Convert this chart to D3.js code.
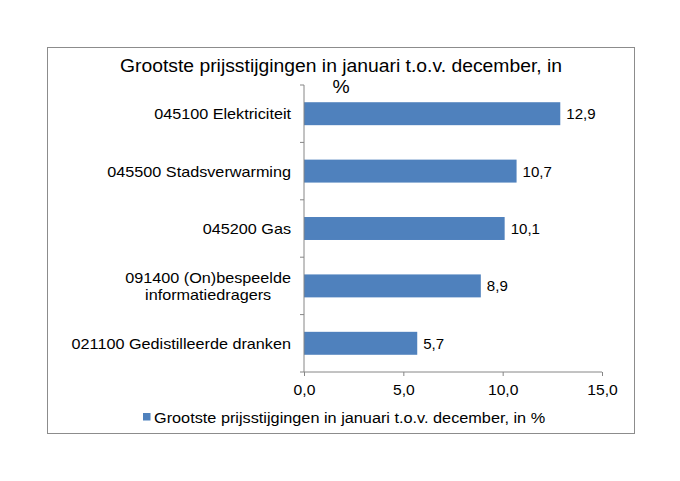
<!DOCTYPE html>
<html>
<head>
<meta charset="utf-8">
<script src="https://cdn.jsdelivr.net/npm/d3@7"></script>
<style>
body{margin:0;background:#fff;}
svg{display:block;font-family:"Liberation Sans",Arial,sans-serif;}
</style>
</head>
<body>
<svg id="c" width="680" height="481"></svg>
<script>
const categories = [
  ["045100 Elektriciteit"],
  ["045500 Stadsverwarming"],
  ["045200 Gas"],
  ["091400 (On)bespeelde", "informatiedragers"],
  ["021100 Gedistilleerde dranken"]
];
const values = [12.9, 10.7, 10.1, 8.9, 5.7];
const xTicks = [0, 5, 10, 15];
const titleLines = ["Grootste prijsstijgingen in januari t.o.v. december, in", "%"];
const seriesName = "Grootste prijsstijgingen in januari t.o.v. december, in %";

const svg = d3.select("#c");
const fmt = v => d3.format(".1f")(v).replace(".", ",");
const axisColor = "#868686";
const barColor = "#4F81BD";
const SX = 1.08;

// outer border
svg.append("rect").attr("x", 47.5).attr("y", 47.5).attr("width", 587).attr("height", 386)
  .attr("fill", "#fff").attr("stroke", "#8c8c8c").attr("stroke-width", 1);

const plot = {left: 304, right: 602, top: 85, bottom: 372};
const x = d3.scaleLinear().domain([0, 15]).range([plot.left, plot.right]);
const y = d3.scaleBand().domain(d3.range(categories.length)).range([plot.top, plot.bottom]).paddingInner(0.6).paddingOuter(0.3);

// title
svg.append("g").selectAll("text").data(titleLines).join("text")
  .attr("transform", (d, i) => `translate(341,${72 + i * 21}) scale(1.045,1)`)
  .attr("text-anchor", "middle").attr("font-size", 18.5).attr("fill", "#000")
  .text(d => d);

// bars
svg.append("g").selectAll("rect").data(values).join("rect")
  .attr("x", x(0)).attr("y", (d, i) => y(i))
  .attr("width", d => x(d) - x(0)).attr("height", y.bandwidth())
  .attr("fill", barColor);

// value labels
svg.append("g").selectAll("text").data(values).join("text")
  .attr("transform", (d, i) => `translate(${x(d) + 6},${y(i) + y.bandwidth() / 2 + 5.5}) scale(1.04,1)`)
  .attr("font-size", 14.5).attr("fill", "#000")
  .text(d => fmt(d));

// x axis
const xAxis = svg.append("g").attr("transform", `translate(0,${plot.bottom})`)
  .call(d3.axisBottom(x).tickValues(xTicks).tickSize(4).tickFormat(fmt));
xAxis.select(".domain").attr("stroke", axisColor).attr("d", `M${plot.left},0H${plot.right}`);
xAxis.selectAll(".tick line").attr("stroke", axisColor);
xAxis.selectAll(".tick text").attr("font-size", 14.5).attr("fill", "#000").attr("dy", null).attr("y", 0)
  .attr("transform", "translate(0,22.5) scale(1.08,1)")
  .attr("font-family", '"Liberation Sans",Arial,sans-serif');

// y axis line + ticks at band boundaries
const step = (plot.bottom - plot.top) / categories.length;
const yg = svg.append("g");
yg.append("line").attr("x1", plot.left).attr("x2", plot.left).attr("y1", plot.top).attr("y2", plot.bottom)
  .attr("stroke", axisColor);
yg.selectAll("line.t").data(d3.range(categories.length + 1)).join("line").attr("class", "t")
  .attr("x1", plot.left - 4).attr("x2", plot.left)
  .attr("y1", i => plot.top + i * step).attr("y2", i => plot.top + i * step)
  .attr("stroke", axisColor);

// category labels
categories.forEach((lines, i) => {
  const cy = y(i) + y.bandwidth() / 2;
  const g = svg.append("g");
  const lh = 17;
  const texts = g.selectAll("text").data(lines).join("text")
    .attr("font-size", 15).attr("fill", "#000").attr("text-anchor", "middle").text(d => d);
  let maxW = 0;
  texts.each(function(){ maxW = Math.max(maxW, this.getComputedTextLength()); });
  const cx = 291 - maxW * SX / 2;
  texts.attr("transform", (d, j) => `translate(${cx},${cy + 5.5 + (j - (lines.length - 1) / 2) * lh}) scale(${SX},1)`);
});

// legend
svg.append("rect").attr("x", 143).attr("y", 413).attr("width", 7.5).attr("height", 7.5).attr("fill", barColor);
svg.append("text").attr("transform", "translate(154,422.5) scale(1.085,1)")
  .attr("font-size", 15).attr("fill", "#000").text(seriesName);
</script>
</body>
</html>
